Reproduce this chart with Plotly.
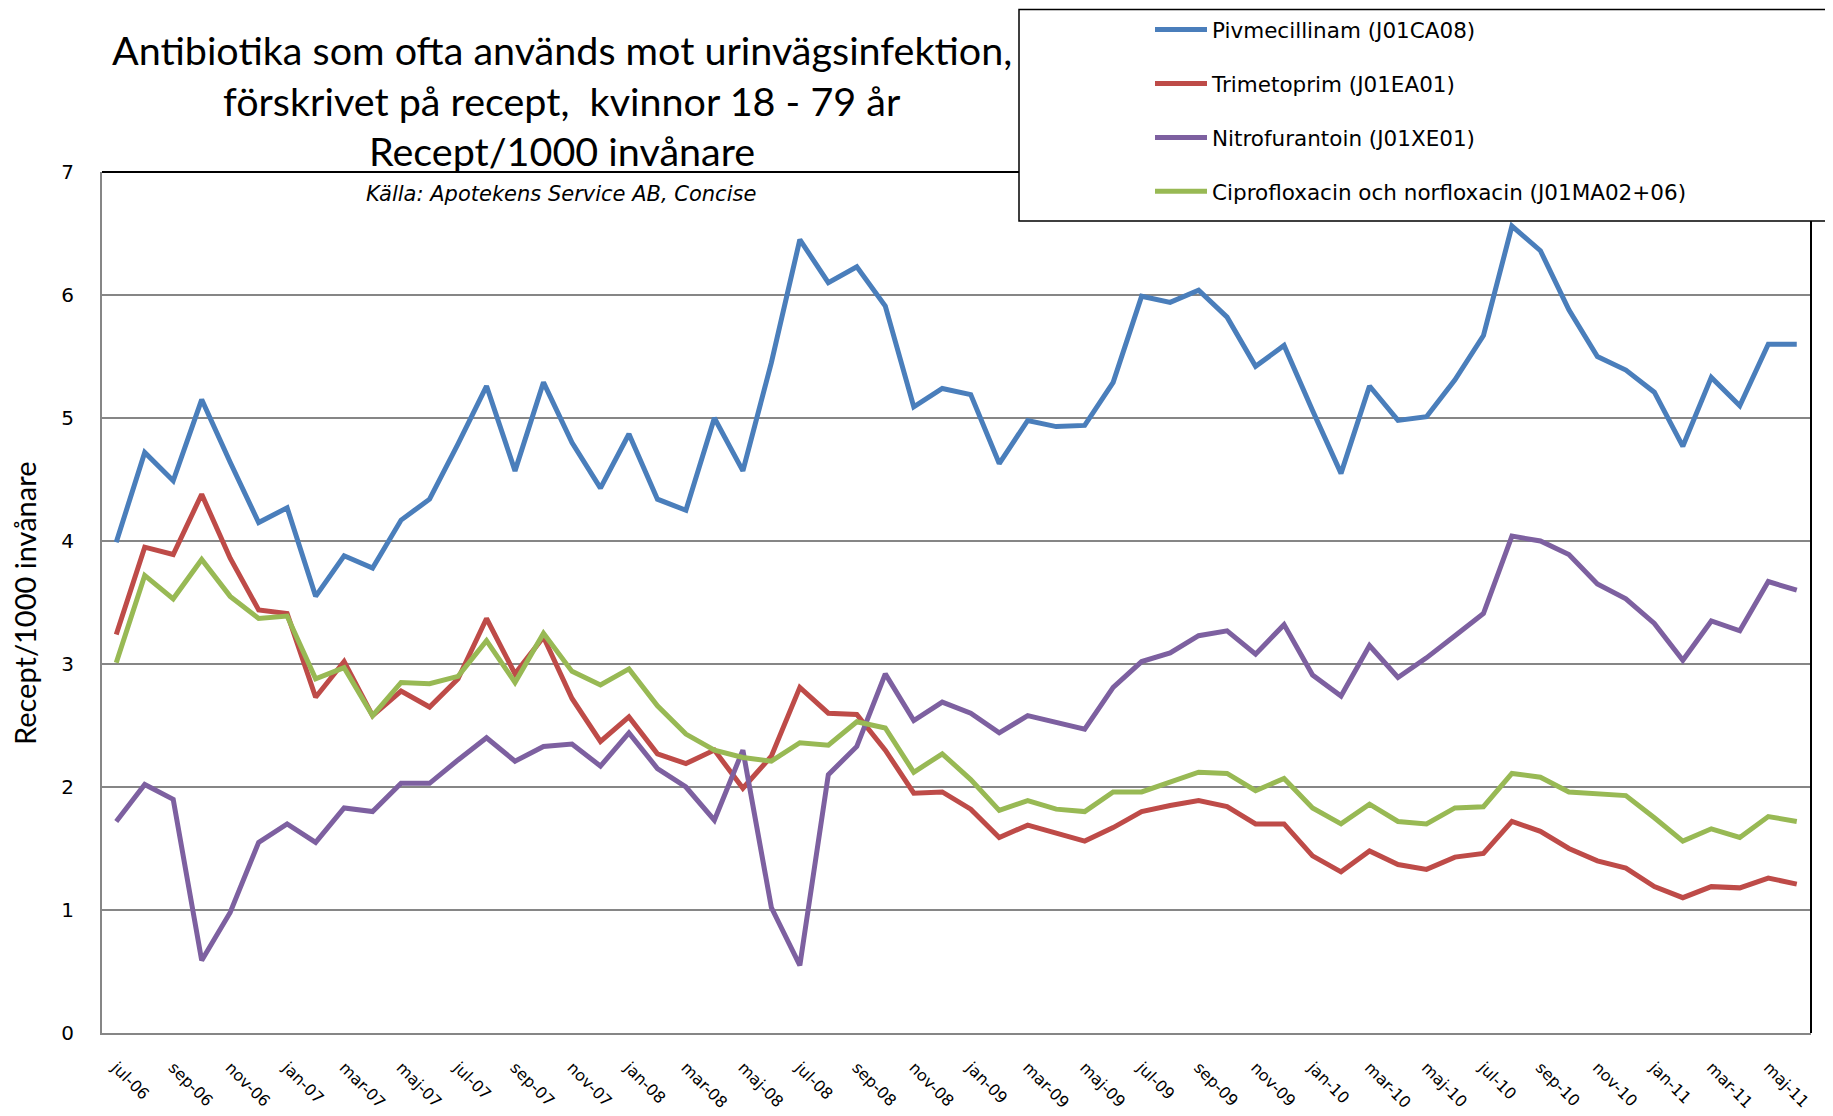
import plotly.graph_objects as go

# manader jul-06 .. jun-11 (svenska forkortningar)
month_names = ["jan", "feb", "mar", "apr", "maj", "jun",
               "jul", "aug", "sep", "okt", "nov", "dec"]
months = []
for year in range(2006, 2012):
    for m in month_names:
        months.append(f"{m}-{str(year)[2:]}")
months = months[6:66]  # jul-06 .. jun-11, 60 manader

pivmecillinam = [3.99, 4.72, 4.49, 5.15, 4.64, 4.15, 4.27, 3.55, 3.88, 3.78,
                 4.17, 4.34, 4.79, 5.26, 4.57, 5.29, 4.80, 4.43, 4.87, 4.34,
                 4.25, 5.00, 4.57, 5.45, 6.45, 6.10, 6.23, 5.91, 5.09, 5.24,
                 5.19, 4.63, 4.98, 4.93, 4.94, 5.29, 5.99, 5.94, 6.04, 5.82,
                 5.42, 5.59, 5.06, 4.55, 5.26, 4.98, 5.01, 5.31, 5.67, 6.56,
                 6.36, 5.88, 5.50, 5.39, 5.21, 4.77, 5.33, 5.10, 5.60, 5.60]

trimetoprim = [3.24, 3.95, 3.89, 4.38, 3.86, 3.44, 3.41, 2.73, 3.02, 2.58,
               2.78, 2.65, 2.88, 3.37, 2.92, 3.22, 2.72, 2.37, 2.57, 2.27,
               2.19, 2.30, 1.99, 2.25, 2.81, 2.60, 2.59, 2.30, 1.95, 1.96,
               1.82, 1.59, 1.69, 1.62, 1.56, 1.67, 1.80, 1.85, 1.89, 1.84,
               1.70, 1.70, 1.44, 1.31, 1.48, 1.37, 1.33, 1.43, 1.46, 1.72,
               1.64, 1.50, 1.40, 1.34, 1.19, 1.10, 1.19, 1.18, 1.26, 1.21]

nitrofurantoin = [1.72, 2.02, 1.90, 0.59, 0.98, 1.55, 1.70, 1.55, 1.83, 1.80,
                  2.03, 2.03, 2.22, 2.40, 2.21, 2.33, 2.35, 2.17, 2.44, 2.15,
                  2.00, 1.73, 2.30, 1.02, 0.55, 2.10, 2.33, 2.92, 2.54, 2.69,
                  2.60, 2.44, 2.58, 2.52, 2.47, 2.81, 3.02, 3.09, 3.23, 3.27,
                  3.08, 3.32, 2.91, 2.74, 3.15, 2.89, 3.05, 3.23, 3.41, 4.04,
                  4.00, 3.89, 3.65, 3.53, 3.33, 3.03, 3.35, 3.27, 3.67, 3.60]

cipro_norflox = [3.01, 3.72, 3.53, 3.85, 3.55, 3.37, 3.39, 2.88, 2.97, 2.58,
                 2.85, 2.84, 2.90, 3.19, 2.85, 3.25, 2.94, 2.83, 2.96, 2.66,
                 2.43, 2.30, 2.24, 2.21, 2.36, 2.34, 2.53, 2.48, 2.12, 2.27,
                 2.06, 1.81, 1.89, 1.82, 1.80, 1.96, 1.96, 2.04, 2.12, 2.11,
                 1.97, 2.07, 1.83, 1.70, 1.86, 1.72, 1.70, 1.83, 1.84, 2.11,
                 2.08, 1.96, 1.94, 1.93, 1.75, 1.56, 1.66, 1.59, 1.76, 1.72]

series = [
    ("Pivmecillinam (J01CA08)", pivmecillinam, "#4A7EBB"),
    ("Trimetoprim (J01EA01)", trimetoprim, "#BE4B48"),
    ("Nitrofurantoin (J01XE01)", nitrofurantoin, "#7D60A0"),
    ("Ciprofloxacin och norfloxacin (J01MA02+06)", cipro_norflox, "#98B954"),
]

# sidan har 8 px marginal runt figuren
OFF = 8
W, H = 1825, 1108
L, R, T, B = 94, 22, 164, 83
pw, ph = W - L - R, H - T - B


def px(x):
    # x i sidans koordinater -> paper
    return (x - OFF - L) / pw


def py(y):
    return (H - B - (y - OFF)) / ph


fig = go.Figure()
for i, (name, vals, col) in enumerate(series):
    fig.add_trace(go.Scatter(x=months, y=vals, name=name, mode="lines",
                             line=dict(color=col, width=5),
                             legendgroup=str(i)))

title_lines = ["Antibiotika som ofta används mot urinvägsinfektion,",
               "förskrivet på recept,  kvinnor 18 - 79 år",
               "Recept/1000 invånare"]
annots = []
for txt, yy in zip(title_lines, [49, 100, 151]):
    annots.append(dict(text=txt, x=px(562), y=py(yy), xref="paper", yref="paper",
                       showarrow=False, xanchor="center", yanchor="middle",
                       font=dict(family="Lato", size=39.5, color="black")))
annots.append(dict(text="<i>Källa: Apotekens Service AB, Concise</i>",
                   x=px(561), y=py(194), xref="paper", yref="paper",
                   showarrow=False, xanchor="center", yanchor="middle",
                   font=dict(family="DejaVu Sans", size=21, color="black")))
annots.append(dict(text="Recept/1000 invånare", x=px(24), y=py(604),
                   xref="paper", yref="paper", showarrow=False, textangle=-90,
                   xanchor="center", yanchor="middle",
                   font=dict(family="Lato", size=29, color="black")))

shapes = [
    dict(type="line", xref="paper", yref="paper", x0=0, x1=1, y0=1, y1=1,
         line=dict(color="black", width=2)),
    dict(type="line", xref="paper", yref="paper", x0=1, x1=1, y0=0, y1=1,
         line=dict(color="black", width=2)),
    # legendruta
    dict(type="rect", xref="paper", yref="paper", x0=px(1019), x1=px(1826),
         y0=py(221), y1=py(9.5), fillcolor="white", layer="above",
         line=dict(color="black", width=1.5)),
]

fig.update_layout(
    width=W, height=H,
    margin=dict(l=L, r=R, t=T, b=B, autoexpand=False),
    paper_bgcolor="white", plot_bgcolor="white",
    showlegend=True,
    legend=dict(x=px(1150), y=py(9), xanchor="left", yanchor="top",
                bgcolor="rgba(0,0,0,0)", borderwidth=0,
                font=dict(family="DejaVu Sans", size=21.5, color="black"),
                itemwidth=52, tracegroupgap=23),
    annotations=annots,
    shapes=shapes,
    font=dict(family="DejaVu Sans", color="black"),
)
fig.update_xaxes(
    type="category", range=[-0.5, 59.5], automargin=False,
    tickvals=months[::2], ticktext=months[::2], tickangle=45,
    tickfont=dict(family="DejaVu Sans", size=16, color="black"),
    showgrid=False, showline=True, linecolor="#868686", linewidth=2,
    ticks="", ticklabelstandoff=17,
)
fig.update_yaxes(
    range=[0, 7], dtick=1, automargin=False,
    tickfont=dict(family="DejaVu Sans", size=20, color="black"),
    showgrid=True, gridcolor="#868686", gridwidth=1.5,
    showline=True, linecolor="#868686", linewidth=2, zeroline=False,
    ticks="", ticklabelstandoff=22,
)

fig.write_html("out.html")
